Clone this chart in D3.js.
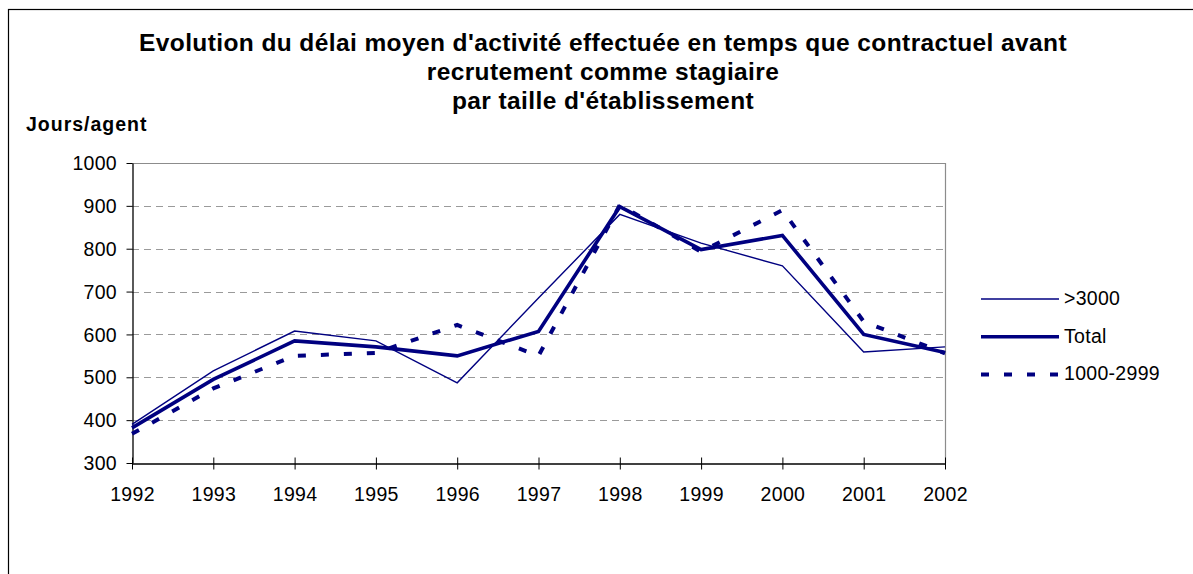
<!DOCTYPE html>
<html>
<head>
<meta charset="utf-8">
<script src="https://cdn.jsdelivr.net/npm/d3@7"></script>
<style>
  body { margin: 0; background: #fff; }
  text { font-family: "Liberation Sans", Arial, sans-serif; }
</style>
</head>
<body>
<div id="chart"></div>
<script>
// data
var years = [1992, 1993, 1994, 1995, 1996, 1997, 1998, 1999, 2000, 2001, 2002];
var over3000 = [390, 515, 608, 585, 487, 685, 880, 813, 760, 559, 571];
var total = [382, 495, 585, 571, 550, 607, 898, 798, 831, 600, 558];
var mid1000 = [368, 474, 550, 557, 622, 550, 902, 793, 890, 630, 556];
var yTicks = [300, 400, 500, 600, 700, 800, 900, 1000];
var titleLines = [
  "Evolution du délai moyen d'activité effectuée en temps que contractuel avant",
  "recrutement comme stagiaire",
  "par taille d'établissement"
];
var seriesNames = [">3000", "Total", "1000-2999"];

var width = 1193;
var height = 574;
var navy = "#000080";
var font = "Liberation Sans, Arial, sans-serif";

var svg = d3.select("#chart")
    .append("svg")
    .attr("width", width)
    .attr("height", height);

// outer frame (runs off the page on right / bottom)
svg.append("rect")
    .attr("x", 8.5)
    .attr("y", 9.5)
    .attr("width", 1300)
    .attr("height", 700)
    .attr("fill", "none")
    .attr("stroke", "#000")
    .attr("stroke-width", 1.2);

// title
svg.append("g").selectAll("text")
    .data(titleLines)
    .enter()
    .append("text")
    .attr("x", 603)
    .attr("y", function(d, i) { return 51 + i * 29; })
    .attr("text-anchor", "middle")
    .attr("font-size", 24.5)
    .attr("font-weight", "bold")
    .attr("letter-spacing", 0.4)
    .text(function(d) { return d; });

svg.append("text")
    .attr("x", 26)
    .attr("y", 131)
    .attr("font-size", 19.5)
    .attr("font-weight", "bold")
    .attr("letter-spacing", 1)
    .text("Jours/agent");

// scales
var xScale = d3.scalePoint()
    .domain(years)
    .range([132, 945]);

var yScale = d3.scaleLinear()
    .domain([300, 1000])
    .range([463, 163]);

// gridlines
svg.append("g").selectAll("line")
    .data(yTicks.slice(1, -1))
    .enter()
    .append("line")
    .attr("x1", 132)
    .attr("x2", 945)
    .attr("y1", function(d) { return Math.round(yScale(d)) + 0.5; })
    .attr("y2", function(d) { return Math.round(yScale(d)) + 0.5; })
    .attr("stroke", "#9a9a9a")
    .attr("stroke-dasharray", "7,5");

// plot border top and right
svg.append("path")
    .attr("d", "M132," + (yScale(1000) + 0.5) + "H945.5V463")
    .attr("fill", "none")
    .attr("stroke", "#8c8c8c")
    .attr("stroke-width", 1.2);

// axes
var xAxis = d3.axisBottom(xScale).tickSize(6).tickSizeOuter(0).tickFormat(d3.format("d"));
var yAxis = d3.axisLeft(yScale).tickValues(yTicks).tickSize(6).tickSizeOuter(0).tickFormat(d3.format("d"));

var gx = svg.append("g")
    .attr("transform", "translate(0, " + (yScale(300) + 0.5) + ")")
    .call(xAxis);
gx.selectAll(".tick line").attr("y1", -6).attr("y2", 6).attr("stroke", "#000");
gx.selectAll("text")
    .attr("y", 37)
    .attr("dy", 0);

var gy = svg.append("g")
    .attr("transform", "translate(132.5, 0)")
    .call(yAxis);
gy.selectAll(".tick line").attr("stroke", "#000");
gy.selectAll("text").attr("x", -15.5).attr("dy", "0.34em");

svg.selectAll(".tick text")
    .attr("font-size", 19.5)
    .attr("font-family", font)
    .attr("letter-spacing", 0.3)
    .attr("fill", "#000");
svg.selectAll(".domain").attr("stroke", "#000").attr("stroke-width", 1.3);

// lines
var series = [
  { name: seriesNames[0], values: over3000, width: 1.4, dash: null },
  { name: seriesNames[1], values: total, width: 3.6, dash: null },
  { name: seriesNames[2], values: mid1000, width: 4, dash: "8,15" }
];

var line = d3.line()
    .x(function(d, i) { return xScale(years[i]); })
    .y(function(d) { return yScale(d); });

svg.append("g").selectAll("path")
    .data(series)
    .enter()
    .append("path")
    .attr("d", function(d) { return line(d.values); })
    .attr("fill", "none")
    .attr("stroke", navy)
    .attr("stroke-width", function(d) { return d.width; })
    .attr("stroke-linejoin", "miter")
    .attr("stroke-dasharray", function(d) { return d.dash; });

// legend
var legend = svg.append("g").selectAll("g")
    .data(series)
    .enter()
    .append("g")
    .attr("transform", function(d, i) { return "translate(981, " + (299 + i * 37.7) + ")"; });

legend.append("line")
    .attr("x1", 0)
    .attr("x2", 78)
    .attr("stroke", navy)
    .attr("stroke-width", function(d) { return d.width; })
    .attr("stroke-dasharray", function(d) { return d.dash; });

legend.append("text")
    .attr("x", 83)
    .attr("y", 6)
    .attr("font-size", 19.5)
    .attr("letter-spacing", 0.3)
    .text(function(d) { return d.name; });
</script>
</body>
</html>
